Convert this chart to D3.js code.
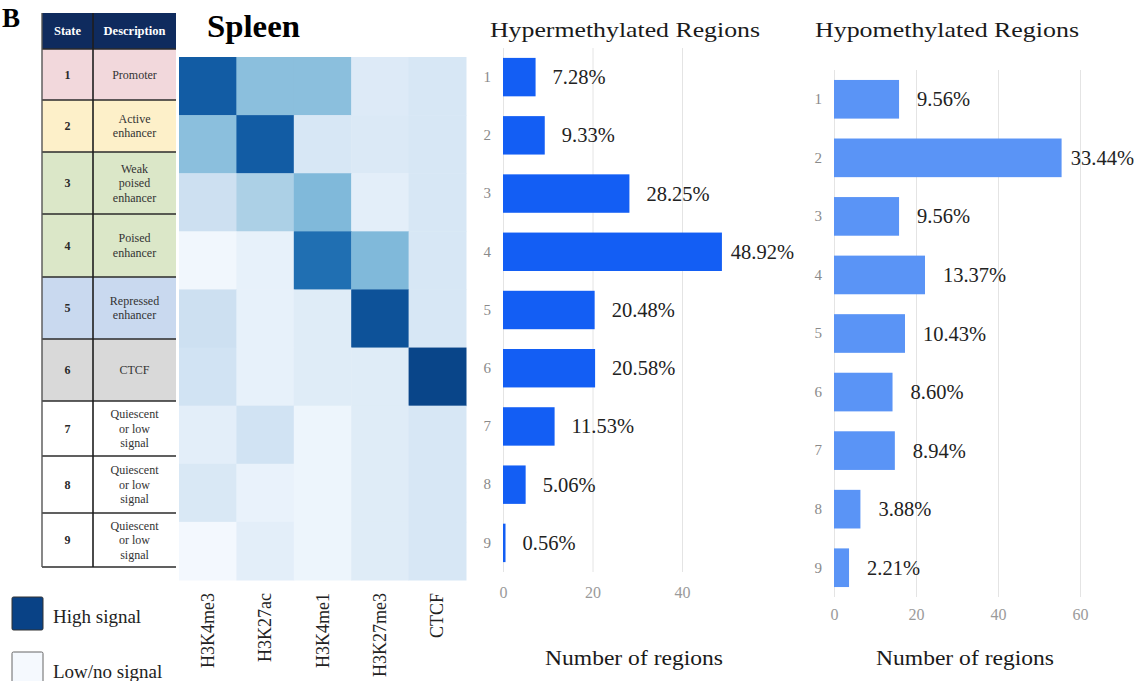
<!DOCTYPE html>
<html>
<head>
<meta charset="utf-8">
<script src="https://cdn.jsdelivr.net/npm/d3@7"></script>
<style>
  html, body { margin: 0; padding: 0; background: #ffffff; }
  svg { display: block; font-family: "Liberation Serif", "Times New Roman", serif; }
</style>
</head>
<body>
<svg id="fig" width="1139" height="681"></svg>
<script>
// ---- Chromatin states ----
const states = [1, 2, 3, 4, 5, 6, 7, 8, 9];
const stateDescriptions = [
  ["Promoter"],
  ["Active", "enhancer"],
  ["Weak", "poised", "enhancer"],
  ["Poised", "enhancer"],
  ["Repressed", "enhancer"],
  ["CTCF"],
  ["Quiescent", "or low", "signal"],
  ["Quiescent", "or low", "signal"],
  ["Quiescent", "or low", "signal"]
];

// ---- Emission signal per state (rows) and mark (columns), 0..1 ----
const chromMarks = ["H3K4me3", "H3K27ac", "H3K4me1", "H3K27me3", "CTCF"];
const signalState1 = [0.83, 0.42, 0.42, 0.13, 0.16];
const signalState2 = [0.42, 0.83, 0.16, 0.14, 0.16];
const signalState3 = [0.21, 0.33, 0.45, 0.10, 0.16];
const signalState4 = [0.03, 0.08, 0.76, 0.45, 0.16];
const signalState5 = [0.21, 0.08, 0.12, 0.87, 0.16];
const signalState6 = [0.19, 0.08, 0.12, 0.12, 0.92];
const signalState7 = [0.10, 0.19, 0.05, 0.12, 0.16];
const signalState8 = [0.15, 0.07, 0.05, 0.12, 0.16];
const signalState9 = [0.02, 0.10, 0.05, 0.12, 0.16];
const signalRows = [signalState1, signalState2, signalState3, signalState4, signalState5,
                    signalState6, signalState7, signalState8, signalState9];

// ---- Differentially methylated regions per state (percent of regions) ----
const hyperPct = [7.28, 9.33, 28.25, 48.92, 20.48, 20.58, 11.53, 5.06, 0.56];
const hypoPct  = [9.56, 33.44, 9.56, 13.37, 10.43, 8.60, 8.94, 3.88, 2.21];
const hyperTotal = 100;   // regions behind the percentages
const hypoTotal = 166;
const hyperTicks = [0, 20, 40];
const hypoTicks = [0, 20, 40, 60];

// ---- Styles ----
const SERIF = '"Liberation Serif", "Times New Roman", serif';
const stateFills = ["#f2d8dc", "#fdf0c9", "#dbe7c8", "#dbe7c8", "#c9d9ef", "#d9d9d9", "#ffffff", "#ffffff", "#ffffff"];
const headerFill = "#0f2b5e";
const hyperColor = "#135ef4";
const hypoColor = "#5a94f6";
const gridColor = "#e4e4e4";
const tickColor = "#9a9a9a";

const svg = d3.select("#fig");

// Panel letter
svg.append("text").attr("x", 2).attr("y", 27)
  .attr("font-family", SERIF).attr("font-weight", "bold").attr("font-size", 27)
  .attr("fill", "#000").text("B");

// ================= State table =================
const tbl = { x0: 42, xDiv: 93, x1: 176, headTop: 13, headBottom: 49 };
const rowHeights = [51, 52, 62, 63, 62, 62, 55, 57, 54];
const rowEdges = [tbl.headBottom];
rowHeights.forEach(h => rowEdges.push(rowEdges[rowEdges.length - 1] + h));

const table = svg.append("g");
table.append("rect").attr("x", tbl.x0).attr("y", tbl.headTop)
  .attr("width", tbl.x1 - tbl.x0).attr("height", tbl.headBottom - tbl.headTop)
  .attr("fill", headerFill);
[["State", (tbl.x0 + tbl.xDiv) / 2], ["Description", (tbl.xDiv + tbl.x1) / 2]].forEach(([t, cx]) => {
  table.append("text").attr("x", cx).attr("y", (tbl.headTop + tbl.headBottom) / 2 + 4)
    .attr("text-anchor", "middle").attr("font-family", SERIF).attr("font-weight", "bold")
    .attr("font-size", 12.5).attr("fill", "#ffffff").text(t);
});

const rows = table.selectAll("g.row").data(states).join("g").attr("class", "row");
rows.append("rect")
  .attr("x", tbl.x0).attr("width", tbl.x1 - tbl.x0)
  .attr("y", (d, i) => rowEdges[i]).attr("height", (d, i) => rowEdges[i + 1] - rowEdges[i])
  .attr("fill", (d, i) => stateFills[i]);
rows.append("text")
  .attr("x", (tbl.x0 + tbl.xDiv) / 2)
  .attr("y", (d, i) => (rowEdges[i] + rowEdges[i + 1]) / 2 + 4)
  .attr("text-anchor", "middle").attr("font-family", SERIF).attr("font-weight", "bold")
  .attr("font-size", 12).attr("fill", "#2a2a2a").text(d => d);
rows.each(function (d, i) {
  const lines = stateDescriptions[i];
  const lh = 14.5;
  const cy = (rowEdges[i] + rowEdges[i + 1]) / 2;
  const t = d3.select(this).append("text")
    .attr("text-anchor", "middle").attr("font-family", SERIF)
    .attr("font-size", 12).attr("fill", "#333");
  lines.forEach((ln, k) => {
    t.append("tspan").attr("x", (tbl.xDiv + tbl.x1) / 2)
      .attr("y", cy + (k - (lines.length - 1) / 2) * lh + 4).text(ln);
  });
});
// row separators and borders
table.selectAll("line.sep").data(rowEdges).join("line").attr("class", "sep")
  .attr("x1", tbl.x0).attr("x2", tbl.x1).attr("y1", d => d).attr("y2", d => d)
  .attr("stroke", "#2b2b2b").attr("stroke-width", 1.6);
table.append("line").attr("x1", tbl.xDiv).attr("x2", tbl.xDiv)
  .attr("y1", tbl.headTop).attr("y2", rowEdges[rowEdges.length - 1])
  .attr("stroke", "#1e1e1e").attr("stroke-width", 1.6);
table.append("line").attr("x1", tbl.x0).attr("x2", tbl.x0)
  .attr("y1", tbl.headTop).attr("y2", rowEdges[rowEdges.length - 1])
  .attr("stroke", "#555").attr("stroke-width", 1.4);

// Legend
const legend = svg.append("g");
[["High signal", d3.interpolateBlues(0.93), 597, "#333"],
 ["Low/no signal", "#f5f9fe", 652, "#666"]].forEach(([label, fill, y, stroke]) => {
  legend.append("rect").attr("x", 12).attr("y", y).attr("width", 31).attr("height", 33)
    .attr("rx", 1.5).attr("fill", fill).attr("stroke", stroke).attr("stroke-width", 1);
  legend.append("text").attr("x", 53).attr("y", y + 26)
    .attr("font-family", SERIF).attr("font-size", 19).attr("fill", "#222").text(label);
});

// ================= Heatmap =================
const hm = { x0: 179, x1: 466, y0: 57, y1: 580 };
const hx = d3.scaleBand().domain(chromMarks).range([hm.x0, hm.x1]);
const hy = d3.scaleBand().domain(states).range([hm.y0, hm.y1]);
const color = d3.scaleSequential(d3.interpolateBlues).domain([0, 1]);

svg.append("text").attr("x", 207).attr("y", 37)
  .attr("font-family", SERIF).attr("font-weight", "bold").attr("font-size", 31)
  .attr("textLength", 93).attr("lengthAdjust", "spacingAndGlyphs").text("Spleen");

const cells = [];
states.forEach((s, i) => chromMarks.forEach((m, j) => cells.push({ state: s, mark: m, v: signalRows[i][j] })));
svg.append("g").selectAll("rect").data(cells).join("rect")
  .attr("x", d => hx(d.mark)).attr("y", d => hy(d.state))
  .attr("width", hx.bandwidth() + 0.5).attr("height", hy.bandwidth() + 0.5)
  .attr("fill", d => color(d.v));

const hxAxis = svg.append("g").attr("transform", `translate(0,${hm.y1})`)
  .call(d3.axisBottom(hx).tickSize(0));
hxAxis.select(".domain").remove();
hxAxis.selectAll("text")
  .attr("transform", "rotate(-90)")
  .attr("text-anchor", "end")
  .attr("x", -13).attr("y", 6).attr("dy", 0)
  .attr("font-family", SERIF).attr("font-size", 18).attr("fill", "#222");

// ================= Bar charts =================
function barChart(opts) {
  const { pct, total, ticks, x0, pxPerUnit, domainMax, yTop, yBottom, fill,
          title, titleX, titleLen, xTitleX, labelGap, labelRight, tickBaseline, catPad } = opts;
  const g = svg.append("g");
  const x = d3.scaleLinear().domain([0, domainMax]).range([x0, x0 + domainMax * pxPerUnit]);
  const y = d3.scaleBand().domain(states).range([yTop, yBottom]).paddingInner(0.34).paddingOuter(0.17);
  const counts = pct.map(p => p * total / 100);

  // grid + tick labels
  const ax = g.append("g").attr("transform", `translate(0,${yBottom})`)
    .call(d3.axisBottom(x).tickValues(ticks).tickSize(-(yBottom - yTop)).tickFormat(d3.format("d")));
  ax.select(".domain").remove();
  ax.selectAll(".tick line").attr("stroke", gridColor).attr("stroke-width", 1);
  ax.selectAll(".tick text").attr("y", tickBaseline - yBottom).attr("dy", 0)
    .attr("font-family", SERIF).attr("font-size", 16).attr("fill", tickColor);

  // category labels
  const ay = g.append("g").attr("transform", `translate(${x0},0)`)
    .call(d3.axisLeft(y).tickSize(0).tickPadding(catPad));
  ay.select(".domain").remove();
  ay.selectAll("text").attr("font-family", SERIF).attr("font-size", 15).attr("fill", "#8a8a8a");

  // bars
  g.append("g").selectAll("rect").data(states).join("rect")
    .attr("x", x(0)).attr("y", d => y(d))
    .attr("width", (d, i) => x(counts[i]) - x(0)).attr("height", y.bandwidth())
    .attr("fill", fill);

  // value labels
  g.append("g").selectAll("text").data(states).join("text")
    .attr("y", d => y(d) + y.bandwidth() / 2 + 7)
    .attr("font-family", SERIF).attr("font-size", 20.5).attr("fill", "#222")
    .text((d, i) => d3.format(".2f")(pct[i]) + "%")
    .each(function (d, i) {
      const w = this.getComputedTextLength();
      let lx = x(counts[i]) + labelGap;
      if (lx + w > labelRight) lx = labelRight - w;
      d3.select(this).attr("x", lx);
    });

  // titles
  g.append("text").attr("x", titleX).attr("y", 37)
    .attr("font-family", SERIF).attr("font-size", 22).attr("fill", "#1a1a1a")
    .attr("textLength", titleLen).attr("lengthAdjust", "spacingAndGlyphs").text(title);
  g.append("text").attr("x", xTitleX).attr("y", 665).attr("text-anchor", "middle")
    .attr("font-family", SERIF).attr("font-size", 20).attr("fill", "#1a1a1a")
    .attr("textLength", 178).attr("lengthAdjust", "spacingAndGlyphs").text("Number of regions");
}

barChart({
  pct: hyperPct, total: hyperTotal, ticks: hyperTicks,
  x0: 503, pxPerUnit: 4.475, domainMax: 50, yTop: 48, yBottom: 572, fill: hyperColor,
  title: "Hypermethylated Regions", titleX: 490, titleLen: 270, xTitleX: 634,
  labelGap: 17, labelRight: 794, tickBaseline: 598, catPad: 12
});

barChart({
  pct: hypoPct, total: hypoTotal, ticks: hypoTicks,
  x0: 834, pxPerUnit: 4.1, domainMax: 70, yTop: 70, yBottom: 597, fill: hypoColor,
  title: "Hypomethylated Regions", titleX: 815, titleLen: 264, xTitleX: 965,
  labelGap: 18, labelRight: 1134, tickBaseline: 620, catPad: 12
});
</script>
</body>
</html>
